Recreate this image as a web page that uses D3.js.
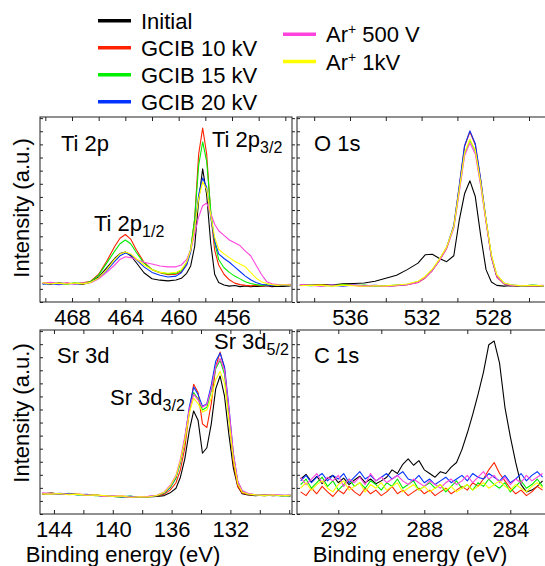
<!DOCTYPE html>
<html>
<head>
<meta charset="utf-8">
<script src="https://cdn.jsdelivr.net/npm/d3@7"></script>
<style>
  body { margin: 0; background: #fff; }
  svg { display: block; font-family: "Liberation Sans", Arial, sans-serif; }
</style>
</head>
<body>
<script>
const width = 545;
const height = 566;

const seriesNames = ["Initial", "GCIB 10 kV", "GCIB 15 kV", "GCIB 20 kV", "Ar+ 500 V", "Ar+ 1kV"];
const seriesColors = ["#000000", "#ff2200", "#00ee00", "#0033ff", "#ff44dd", "#ffff00"];

// Ti 2p
const tiEnergy = [470.2, 469.6, 469.0, 468.4, 467.8, 467.2, 466.6, 466.0, 465.4, 464.8, 464.4, 464.0, 463.6, 463.2, 462.6, 462.0, 461.4, 460.8, 460.2, 459.8, 459.4, 459.1, 458.8, 458.5, 458.2, 457.9, 457.6, 457.3, 457.0, 456.6, 456.2, 455.8, 455.4, 455.0, 454.6, 454.2, 453.8, 453.4, 453.0, 452.6, 452.2, 451.6];
const tiInitial = [10.2, 9.6, 10.4, 9.8, 10.1, 9.5, 10.8, 13.5, 18.5, 23.5, 26.2, 27.0, 25.0, 21.5, 15.8, 12.6, 11.8, 11.4, 11.9, 12.8, 15.5, 19.5, 30, 55, 72, 58, 32, 15, 10.5, 9.2, 8.6, 8.9, 8.3, 8.7, 8.2, 8.6, 8.4, 8.8, 8.3, 8.6, 8.4, 8.7];
const tiGcib10 = [10.0, 10.5, 9.7, 10.3, 9.9, 10.4, 11.2, 15.0, 22.0, 30.0, 34.5, 36.5, 34.0, 28.5, 21.5, 17.5, 15.8, 14.8, 15.0, 16.2, 20.5, 28.0, 45, 80, 94, 80, 48, 28, 20, 15, 12, 10.2, 9.4, 9.0, 8.7, 9.1, 8.6, 9.0, 8.8, 9.2, 8.9, 9.1];
const tiGcib15 = [9.8, 10.3, 10.0, 9.6, 10.4, 10.0, 11.0, 14.5, 21.0, 27.5, 31.5, 33.5, 31.5, 27.0, 21.0, 17.5, 16.0, 15.2, 15.5, 17.0, 21.5, 28.5, 45, 74, 86.5, 76, 50, 32, 23, 18.5, 16, 14, 12.5, 11, 10, 9.4, 9.0, 9.3, 8.9, 9.2, 9.0, 9.3];
const tiGcib20 = [9.6, 10.0, 9.4, 10.1, 9.7, 9.9, 10.5, 12.8, 17.0, 22.0, 25.0, 26.5, 25.5, 23.0, 19.0, 16.0, 14.5, 13.5, 14.0, 15.8, 20.0, 27.0, 40, 58, 67, 62, 46, 33, 26, 23.5, 21.5, 19, 16.5, 14, 12, 10.5, 9.6, 9.2, 8.9, 9.3, 9.0, 9.2];
const tiAr500 = [10.0, 10.6, 9.8, 10.2, 9.7, 10.3, 10.4, 12.5, 16.0, 20.0, 23.0, 24.5, 24.0, 23.0, 21.5, 20.5, 19.5, 19.0, 19.0, 20.0, 23.0, 28.0, 37, 46, 52, 53.5, 48, 42, 38.5, 36, 33.5, 32, 30.5, 27.5, 25, 20, 15, 11, 9.8, 9.5, 9.3, 9.6];
const tiAr1k = [10.4, 9.9, 10.2, 9.7, 10.3, 9.8, 10.6, 13.0, 17.5, 23.0, 26.0, 27.0, 26.0, 23.5, 20.0, 17.5, 16.0, 15.5, 16.0, 17.5, 21.5, 28.0, 40, 56, 65, 61, 47, 35, 28.5, 26, 24, 22, 20.5, 19, 16, 13, 11, 10, 9.4, 9.0, 9.3, 9.1];
const tiTicks = [470, 468, 466, 464, 462, 460, 458, 456, 454, 452];
const tiTickLabels = [468, 464, 460, 456];

// O 1s
const oEnergy = [538.8, 538.2, 537.6, 537.0, 536.4, 535.8, 535.2, 534.6, 534.0, 533.4, 532.8, 532.2, 531.8, 531.4, 531.0, 530.6, 530.2, 529.9, 529.6, 529.3, 529.0, 528.7, 528.4, 528.1, 527.8, 527.4, 527.0, 526.4, 525.8, 525.2];
const oInitial = [9.0, 9.3, 9.5, 9.2, 9.8, 10.0, 10.3, 11.2, 12.8, 14.5, 17.5, 21.0, 25.5, 25.8, 23.5, 21.8, 25.0, 44.0, 58.5, 65.5, 57.0, 36.0, 17.5, 10.8, 9.0, 8.6, 8.8, 8.4, 8.7, 8.5];
const oGcib10 = [9.2, 9.0, 9.4, 8.8, 9.3, 9.0, 8.6, 8.9, 8.5, 8.8, 9.3, 10.5, 13.0, 17.0, 22.5, 29.0, 41.0, 62.0, 84.0, 92.0, 85.0, 66.0, 44.0, 24.0, 13.5, 9.8, 9.0, 8.5, 8.9, 8.6];
const oGcib15 = [9.1, 8.8, 9.2, 8.7, 9.4, 8.9, 9.1, 8.5, 8.8, 9.1, 9.6, 11.0, 13.5, 17.5, 23.0, 29.5, 40.5, 60.0, 80.0, 87.5, 81.5, 64.0, 44.0, 25.0, 14.5, 10.2, 9.2, 8.6, 9.1, 8.7];
const oGcib20 = [8.9, 9.3, 8.7, 9.1, 8.6, 9.2, 8.8, 9.0, 8.6, 9.0, 9.5, 10.8, 13.3, 17.2, 22.8, 29.5, 41.5, 62.5, 84.5, 92.5, 85.5, 66.5, 44.5, 24.5, 14.0, 10.0, 9.1, 8.7, 9.0, 8.8];
const oAr500 = [9.4, 9.0, 8.6, 9.2, 8.8, 9.1, 8.7, 8.9, 8.4, 8.9, 9.4, 10.6, 13.2, 17.0, 22.5, 29.0, 40.0, 59.0, 79.0, 86.0, 80.0, 63.0, 43.0, 24.5, 14.0, 10.0, 9.0, 8.8, 8.7, 9.0];
const oAr1k = [8.8, 9.1, 9.0, 8.6, 9.1, 8.8, 8.5, 8.8, 8.7, 9.2, 9.7, 11.2, 13.8, 17.8, 23.2, 29.8, 40.8, 60.5, 80.5, 88.0, 82.0, 64.5, 44.5, 25.5, 14.8, 10.3, 9.3, 8.7, 9.0, 8.7];
const oTicks = [538, 536, 534, 532, 530, 528, 526];
const oTickLabels = [536, 532, 528];

// Sr 3d
const srEnergy = [144.8, 144.2, 143.6, 143.0, 142.4, 141.8, 141.2, 140.6, 140.0, 139.4, 138.8, 138.2, 137.6, 137.0, 136.5, 136.1, 135.7, 135.4, 135.1, 134.8, 134.5, 134.2, 133.9, 133.6, 133.3, 133.0, 132.7, 132.4, 132.1, 131.8, 131.5, 131.2, 130.8, 130.3, 129.7, 129.1, 128.5, 127.9];
const srInitial = [11.0, 11.4, 10.8, 11.1, 10.6, 10.3, 10.5, 9.8, 9.6, 9.2, 9.5, 9.0, 9.3, 9.6, 10.0, 11.5, 14.0, 20.0, 30.0, 45.0, 56.0, 51.0, 33.0, 36.0, 49.0, 68.0, 75.0, 64.0, 43.0, 25.0, 15.0, 11.0, 10.3, 10.0, 10.4, 9.9, 10.2, 9.8];
const srGcib10 = [10.8, 11.2, 11.0, 10.6, 10.9, 10.4, 10.1, 9.9, 9.5, 9.7, 9.3, 9.1, 9.4, 9.8, 10.8, 13.0, 17.0, 24.0, 36.0, 55.0, 70.5, 66.0, 49.0, 47.0, 60.0, 80.0, 88.0, 79.0, 53.0, 28.0, 15.0, 11.5, 10.5, 10.2, 10.0, 10.3, 9.9, 10.1];
const srGcib15 = [11.1, 11.0, 10.7, 11.2, 10.4, 10.6, 10.0, 9.9, 9.5, 9.3, 9.7, 9.0, 9.4, 9.9, 11.4, 14.2, 19.5, 28.0, 40.0, 56.0, 66.0, 62.5, 56.5, 58.0, 67.0, 79.0, 83.5, 76.0, 54.0, 31.0, 17.0, 12.3, 10.8, 10.3, 10.0, 10.2, 9.8, 10.0];
const srGcib20 = [11.3, 10.9, 11.2, 10.8, 10.5, 10.7, 10.2, 9.7, 9.8, 9.4, 9.6, 9.2, 9.5, 10.0, 11.5, 14.5, 20.0, 28.5, 41.0, 58.0, 69.0, 65.0, 58.5, 60.0, 70.0, 83.0, 87.5, 80.0, 58.0, 33.0, 17.5, 12.5, 11.0, 10.4, 10.1, 10.4, 10.0, 10.2];
const srAr500 = [11.5, 11.1, 10.9, 10.8, 10.7, 10.4, 10.3, 9.6, 9.9, 9.5, 9.2, 9.3, 9.6, 10.2, 12.0, 15.5, 21.0, 30.0, 42.0, 57.0, 65.0, 62.0, 58.0, 59.5, 68.0, 80.0, 84.5, 78.0, 57.0, 33.0, 18.0, 12.8, 11.2, 10.5, 10.3, 10.6, 10.1, 10.3];
const srAr1k = [11.0, 10.8, 11.1, 10.5, 10.8, 10.2, 10.4, 10.0, 9.6, 9.8, 9.1, 9.4, 9.2, 10.1, 11.8, 15.0, 20.5, 29.0, 40.0, 54.5, 63.0, 60.0, 55.5, 56.5, 63.0, 73.0, 77.5, 71.0, 51.0, 30.0, 16.5, 12.0, 10.9, 10.4, 10.1, 10.3, 9.9, 10.2];
const srTicks = [144, 142, 140, 138, 136, 134, 132, 130, 128];
const srTickLabels = [144, 140, 136, 132];

// C 1s
const cEnergy = [293.75, 293.5, 293.25, 293.0, 292.75, 292.5, 292.25, 292.0, 291.75, 291.5, 291.25, 291.0, 290.75, 290.5, 290.25, 290.0, 289.75, 289.5, 289.25, 289.0, 288.75, 288.5, 288.25, 288.0, 287.75, 287.5, 287.25, 287.0, 286.75, 286.5, 286.25, 286.0, 285.75, 285.5, 285.25, 285.0, 284.75, 284.5, 284.25, 284.0, 283.75, 283.5, 283.25, 283.0, 282.75, 282.5];
const cInitial = [19, 21.5, 17.5, 20.5, 16.5, 19.5, 21, 17, 19.5, 16, 18.5, 20.5, 17, 19, 16.5, 18, 20, 24, 22, 27, 30, 26.5, 29, 24, 22, 20, 23, 22, 25.5, 28, 35, 44, 54, 65, 77, 92, 94, 82, 58, 42, 28, 16, 12, 13, 15, 18];
const cGcib10 = [12, 10, 14, 11, 15, 12, 9.5, 13, 11, 15, 12, 10, 14, 11, 13, 10, 12, 15, 11, 13, 10, 12, 14, 11, 13, 10, 12, 14, 11, 13, 15, 13, 17, 15, 19, 24, 28, 22, 18, 14, 11, 13, 10, 12, 15, 13];
const cGcib15 = [16, 19, 14, 17, 20, 15, 18, 13, 16, 19, 15, 17, 14, 18, 16, 13, 17, 15, 19, 14, 16, 18, 13, 15, 17, 14, 16, 12, 15, 18, 14, 16, 13, 17, 15, 19, 16, 14, 17, 12, 15, 18, 14, 16, 19, 15];
const cGcib20 = [18, 21, 17, 20, 22, 18, 21, 19, 22, 17, 20, 23, 19, 21, 18, 20, 22, 19, 21, 23, 19, 18, 21, 17, 19, 16, 18, 20, 17, 19, 21, 18, 22, 20, 19, 22, 20, 18, 21, 17, 19, 22, 18, 21, 23, 20];
const cAr500 = [20, 16, 19, 22, 17, 20, 18, 21, 15, 19, 17, 20, 16, 22, 18, 20, 17, 19, 21, 18, 16, 19, 17, 15, 18, 16, 14, 17, 19, 16, 18, 21, 17, 20, 23, 19, 21, 17, 20, 16, 19, 17, 21, 18, 20, 22];
const cAr1k = [14, 17, 13, 16, 18, 14, 12, 16, 18, 13, 15, 17, 12, 16, 14, 17, 13, 15, 17, 12, 14, 16, 13, 15, 12, 14, 16, 13, 15, 12, 14, 16, 13, 15, 17, 14, 16, 18, 15, 13, 16, 14, 12, 15, 17, 14];
const cTicks = [292, 290, 288, 286, 284];
const cTickLabels = [292, 288, 284];

const fontSize = 22;
const subSize = 16;

const panels = [
  {
    left: 40, top: 117, w: 252, h: 185,
    domain: [470.4, 451.5],
    energy: tiEnergy,
    curves: [tiInitial, tiGcib10, tiGcib15, tiGcib20, tiAr500, tiAr1k],
    ticks: tiTicks, tickLabels: tiTickLabels,
    notes: [
      { x: 61, y: 151, text: "Ti 2p" },
      { x: 212, y: 147, text: "Ti 2p", sub: "3/2" },
      { x: 94, y: 231, text: "Ti 2p", sub: "1/2" }
    ]
  },
  {
    left: 297, top: 117, w: 249, h: 185,
    domain: [538.96, 525.05],
    energy: oEnergy,
    curves: [oInitial, oGcib10, oGcib15, oGcib20, oAr500, oAr1k],
    ticks: oTicks, tickLabels: oTickLabels,
    notes: [{ x: 314, y: 151, text: "O 1s" }]
  },
  {
    left: 40, top: 330, w: 252, h: 184,
    domain: [144.95, 127.81],
    energy: srEnergy,
    curves: [srInitial, srGcib10, srGcib15, srGcib20, srAr500, srAr1k],
    ticks: srTicks, tickLabels: srTickLabels,
    notes: [
      { x: 57, y: 363, text: "Sr 3d" },
      { x: 214, y: 349, text: "Sr 3d", sub: "5/2" },
      { x: 110, y: 405, text: "Sr 3d", sub: "3/2" }
    ]
  },
  {
    left: 297, top: 330, w: 249, h: 184,
    domain: [293.92, 282.34],
    energy: cEnergy,
    curves: [cInitial, cGcib10, cGcib15, cGcib20, cAr500, cAr1k],
    ticks: cTicks, tickLabels: cTickLabels,
    notes: [{ x: 314, y: 363, text: "C 1s" }]
  }
];

function main() {
  const svg = d3
    .select("body")
    .append("svg")
    .attr("width", width)
    .attr("height", height);

  panels.forEach((p, i) => drawPanel(svg, p, i));

  // axis titles
  [[29, 208], [29, 413]].forEach(([x, y]) =>
    svg
      .append("text")
      .attr("transform", `translate(${x},${y}) rotate(-90)`)
      .attr("text-anchor", "middle")
      .attr("font-size", fontSize)
      .text("Intensity (a.u.)")
  );
  [123, 410].forEach(x =>
    svg
      .append("text")
      .attr("x", x)
      .attr("y", 562)
      .attr("text-anchor", "middle")
      .attr("font-size", fontSize)
      .text("Binding energy (eV)")
  );

  drawLegend(svg);
}

function drawPanel(svg, p, i) {
  const x = d3.scaleLinear().domain(p.domain).range([p.left, p.left + p.w]);
  const y = d3.scaleLinear().domain([0, 100]).range([p.top + p.h, p.top]);

  svg
    .append("clipPath")
    .attr("id", `clip${i}`)
    .append("rect")
    .attr("x", p.left)
    .attr("y", p.top)
    .attr("width", p.w)
    .attr("height", p.h);

  const line = d3
    .line()
    .x(d => x(d[0]))
    .y(d => y(d[1]));

  const g = svg.append("g").attr("clip-path", `url(#clip${i})`);
  p.curves.forEach((values, k) => {
    g.append("path")
      .datum(p.energy.map((e, j) => [e, values[j]]))
      .attr("fill", "none")
      .attr("stroke", seriesColors[k])
      .attr("stroke-width", 1.1)
      .attr("stroke-linejoin", "round")
      .attr("d", line);
  });

  // bottom ticks with labels, inward
  const bottom = svg
    .append("g")
    .attr("transform", `translate(0,${p.top + p.h})`)
    .call(
      d3
        .axisBottom(x)
        .tickValues(p.ticks)
        .tickSizeInner(-4)
        .tickSizeOuter(0)
        .tickPadding(7)
        .tickFormat(d => (p.tickLabels.includes(d) ? d : ""))
    );
  bottom.select(".domain").remove();
  bottom.selectAll("line").attr("stroke", "#222");
  bottom.selectAll("text").attr("font-size", fontSize).attr("font-family", null).attr("fill", "#000");

  // top ticks, inward
  const top = svg
    .append("g")
    .attr("transform", `translate(0,${p.top})`)
    .call(d3.axisTop(x).tickValues(p.ticks).tickSizeInner(-4).tickSizeOuter(0).tickFormat(""));
  top.select(".domain").remove();
  top.selectAll("line").attr("stroke", "#222");

  // y ticks, no labels
  const yTicks = d3.range(0, 100, 7.1);
  const leftAxis = svg
    .append("g")
    .attr("transform", `translate(${p.left},0)`)
    .call(d3.axisLeft(y).tickValues(yTicks).tickSizeInner(-3).tickSizeOuter(0).tickFormat(""));
  leftAxis.select(".domain").remove();
  leftAxis.selectAll("line").attr("stroke", "#222");

  if (p.left + p.w < width) {
    const rightAxis = svg
      .append("g")
      .attr("transform", `translate(${p.left + p.w},0)`)
      .call(d3.axisRight(y).tickValues(yTicks).tickSizeInner(3).tickSizeOuter(0).tickFormat(""));
    rightAxis.select(".domain").remove();
    rightAxis.selectAll("line").attr("stroke", "#222");
  }

  svg
    .append("rect")
    .attr("x", p.left)
    .attr("y", p.top)
    .attr("width", p.w)
    .attr("height", p.h)
    .attr("fill", "none")
    .attr("stroke", "#222")
    .attr("stroke-width", 1);

  p.notes.forEach(n => {
    const t = svg
      .append("text")
      .attr("x", n.x)
      .attr("y", n.y)
      .attr("font-size", fontSize)
      .text(n.text);
    if (n.sub) {
      t.append("tspan").attr("font-size", subSize).attr("dy", 6).text(n.sub);
    }
  });
}

function drawLegend(svg) {
  const rows = [
    [98, 20.7], [98, 47.7], [98, 74.7], [98, 101.7],
    [283, 34.3], [283, 61.5]
  ];
  seriesNames.forEach((name, k) => {
    const [lx, ly] = rows[k];
    svg
      .append("line")
      .attr("x1", lx)
      .attr("x2", lx + 33)
      .attr("y1", ly)
      .attr("y2", ly)
      .attr("stroke", seriesColors[k])
      .attr("stroke-width", 3.5);
    const t = svg
      .append("text")
      .attr("x", lx + 43)
      .attr("y", ly + 8)
      .attr("font-size", fontSize);
    if (name.startsWith("Ar+")) {
      t.append("tspan").text("Ar");
      t.append("tspan").attr("font-size", 14).attr("dy", -8).text("+");
      t.append("tspan").attr("dy", 8).text(name.slice(3));
    } else {
      t.text(name);
    }
  });
}

main();
</script>
</body>
</html>
